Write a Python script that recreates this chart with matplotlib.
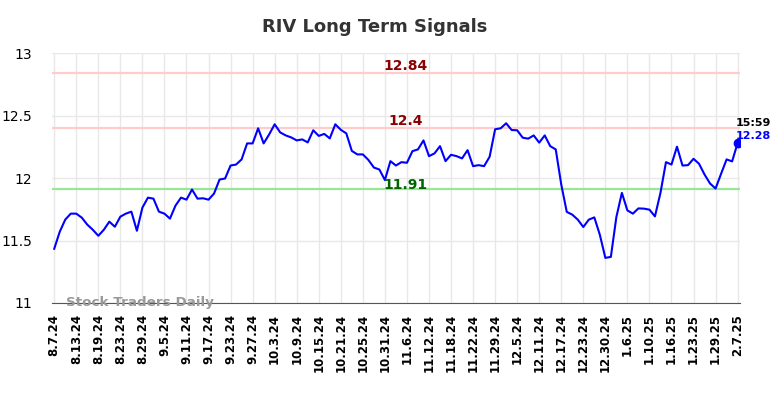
import matplotlib
matplotlib.use("Agg")
import matplotlib.pyplot as plt

# closing prices, one per trading day
prices = [11.434, 11.570, 11.667, 11.715, 11.715, 11.683, 11.627, 11.586, 11.538, 11.586,
          11.651, 11.610, 11.691, 11.715, 11.731, 11.578, 11.763, 11.843, 11.835, 11.731,
          11.715, 11.675, 11.779, 11.843, 11.827, 11.908, 11.835, 11.838, 11.827, 11.876,
          11.988, 11.996, 12.100, 12.108, 12.149, 12.277, 12.277, 12.398, 12.277, 12.349,
          12.430, 12.365, 12.341, 12.325, 12.301, 12.309, 12.285, 12.382, 12.337, 12.353,
          12.317, 12.430, 12.386, 12.357, 12.217, 12.189, 12.189, 12.145, 12.084, 12.068,
          11.984, 12.135, 12.100, 12.127, 12.122, 12.215, 12.229, 12.301, 12.175, 12.197,
          12.255, 12.135, 12.186, 12.175, 12.157, 12.223, 12.095, 12.103, 12.095, 12.170,
          12.390, 12.398, 12.438, 12.384, 12.382, 12.323, 12.315, 12.341, 12.283, 12.341,
          12.255, 12.229, 11.948, 11.729, 11.707, 11.667, 11.608, 11.667, 11.685, 11.546,
          11.361, 11.369, 11.688, 11.881, 11.741, 11.715, 11.757, 11.755, 11.747, 11.693,
          11.881, 12.127, 12.108, 12.251, 12.100, 12.103, 12.154, 12.114, 12.028, 11.956,
          11.916, 12.034, 12.149, 12.133, 12.28]

tick_labels = ["8.7.24", "8.13.24", "8.19.24", "8.23.24", "8.29.24", "9.5.24", "9.11.24",
               "9.17.24", "9.23.24", "9.27.24", "10.3.24", "10.9.24", "10.15.24", "10.21.24",
               "10.25.24", "10.31.24", "11.6.24", "11.12.24", "11.18.24", "11.22.24",
               "11.29.24", "12.5.24", "12.11.24", "12.17.24", "12.23.24", "12.30.24",
               "1.6.25", "1.10.25", "1.16.25", "1.23.25", "1.29.25", "2.7.25"]

upper = 12.84
mid = 12.4
lower = 11.91
last_time = "15:59"

x = list(range(len(prices)))
ticks = x[::4]

fig = plt.figure(figsize=(7.84, 3.98), dpi=100)
ax = fig.add_axes([0.066, 0.2387, 0.878, 0.628])

ax.plot(x, prices, color="blue", lw=1.5, zorder=3)
ax.plot(x[-1], prices[-1], "o", color="blue", ms=6, zorder=4)

ax.axhline(upper, color="#ffcccc", lw=1.6, zorder=2)
ax.axhline(mid, color="#ffcccc", lw=1.6, zorder=2)
ax.axhline(lower, color="#99e699", lw=1.6, zorder=2)

lx = 63.7
ax.text(lx, upper + 0.0, str(upper), color="#8b0000", fontsize=10, fontweight="bold",
        ha="center", va="bottom")
ax.text(lx, mid + 0.0, str(mid), color="#8b0000", fontsize=10, fontweight="bold",
        ha="center", va="bottom")
ax.text(lx, lower - 0.02, str(lower), color="#006400", fontsize=10, fontweight="bold",
        ha="center", va="bottom")

ax.text(x[-1] - 0.3, prices[-1] + 0.12, last_time, color="black", fontsize=8,
        fontweight="bold", ha="left", va="bottom", clip_on=False)
ax.text(x[-1] - 0.3, prices[-1] + 0.02, f"{prices[-1]:.2f}", color="blue", fontsize=8,
        fontweight="bold", ha="left", va="bottom", clip_on=False)

ax.text(2.2, 11.0, "Stock Traders Daily", color="#999999", fontsize=9.7, fontweight="bold",
        ha="left", va="center", zorder=5)

ax.set_xlim(-0.45, len(prices) - 1 + 0.45)
ax.set_ylim(11, 13)
ax.set_yticks([11, 11.5, 12, 12.5, 13])
ax.set_yticklabels(["11", "11.5", "12", "12.5", "13"])
ax.set_xticks(ticks)
ax.set_xticklabels(tick_labels, rotation=90, fontweight="bold", fontsize=8.5)
ax.tick_params(axis="y", labelsize=10, length=0, pad=14)
ax.tick_params(axis="x", length=0, pad=8)

ax.grid(True, color="#e8e8e8", lw=1)
ax.set_axisbelow(True)
for s in ["top", "right", "left"]:
    ax.spines[s].set_visible(False)
ax.spines["bottom"].set_color("#555555")

fig.text(375 / 784, 1 - 27 / 398, "RIV Long Term Signals", fontsize=13, fontweight="bold",
         color="#333333", ha="center", va="center")

fig.savefig("out.png", dpi=100)
